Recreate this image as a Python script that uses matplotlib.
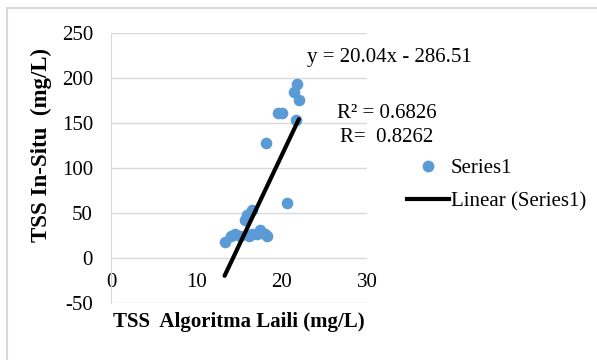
import matplotlib.pyplot as plt
import numpy as np
from matplotlib.lines import Line2D
from matplotlib.patches import Rectangle

# data
tss_laili = [13.3, 14.0, 14.5, 15.1, 15.7, 15.9, 16.5, 16.5, 16.2, 17.1, 17.5,
             18.05, 18.25, 18.2, 20.6, 19.6, 20.0, 21.65, 21.4, 21.8, 22.0]
tss_insitu = [18, 24, 26, 24, 42, 48, 53, 27, 24, 27, 31,
              27, 24, 128, 61, 161, 161, 154, 185, 193, 176]
slope, intercept = 20.04, -286.51
eq_text = 'y = 20.04x - 286.51'
r2_text = 'R² = 0.6826'
r_text = 'R=  0.8262'

plt.rcParams['font.family'] = ['Liberation Serif', 'DejaVu Serif']
plt.rcParams['axes.unicode_minus'] = False

fig = plt.figure(figsize=(5.97, 3.6), dpi=100)
ax = fig.add_axes([0.186, 0.159, 0.429, 0.7485])

blue = '#5B9BD5'
grid = '#D9D9D9'

ax.scatter(tss_laili, tss_insitu, s=70, color=blue, zorder=3, linewidths=0)
xs = np.array([min(tss_laili), max(tss_laili)])
ax.plot(xs, slope * xs + intercept, color='black', lw=3, solid_capstyle='round', zorder=4)

ax.set_xlim(0, 30)
ax.set_ylim(-50, 250)
ax.set_xticks([0, 10, 20, 30])
ax.set_yticks(range(-50, 251, 50))
ax.grid(axis='y', color=grid, lw=1)
ax.set_axisbelow(True)
for s in ['top', 'right']:
    ax.spines[s].set_visible(False)
ax.spines['left'].set_color(grid)
ax.spines['bottom'].set_position(('data', 0))
ax.spines['bottom'].set_visible(False)
ax.tick_params(length=0, labelsize=15)
ax.tick_params(axis='y', pad=13)
ax.tick_params(axis='x', pad=11)

fig.text(0.4, 0.106, 'TSS  Algoritma Laili (mg/L)', ha='center', va='center',
         fontsize=15, fontweight='bold')
fig.text(0.07, 0.597, 'TSS In-Situ  (mg/L)', ha='center', va='center',
         rotation=90, fontsize=16.5, fontweight='bold')

fig.text(0.514, 0.839, eq_text, ha='left', va='center', fontsize=15)
fig.text(0.5645, 0.686, r2_text, ha='left', va='center', fontsize=15)
fig.text(0.5695, 0.617, r_text, ha='left', va='center', fontsize=15)

handles = [Line2D([], [], ls='none', marker='o', ms=8.5, color=blue, mec='none'),
           Line2D([], [], color='black', lw=3)]
fig.legend(handles, ['Series1', 'Linear (Series1)'], loc='center left',
           bbox_to_anchor=(0.682, 0.486), frameon=False, fontsize=15,
           handlelength=2.0, handletextpad=0.1, labelspacing=0.65,
           borderpad=0, borderaxespad=0)

fig.add_artist(Rectangle((0.012, -0.05), 1.1, 1.028, transform=fig.transFigure,
                         fill=False, edgecolor=grid, lw=1.5, clip_on=False))

fig.savefig('out.png', dpi=100)
